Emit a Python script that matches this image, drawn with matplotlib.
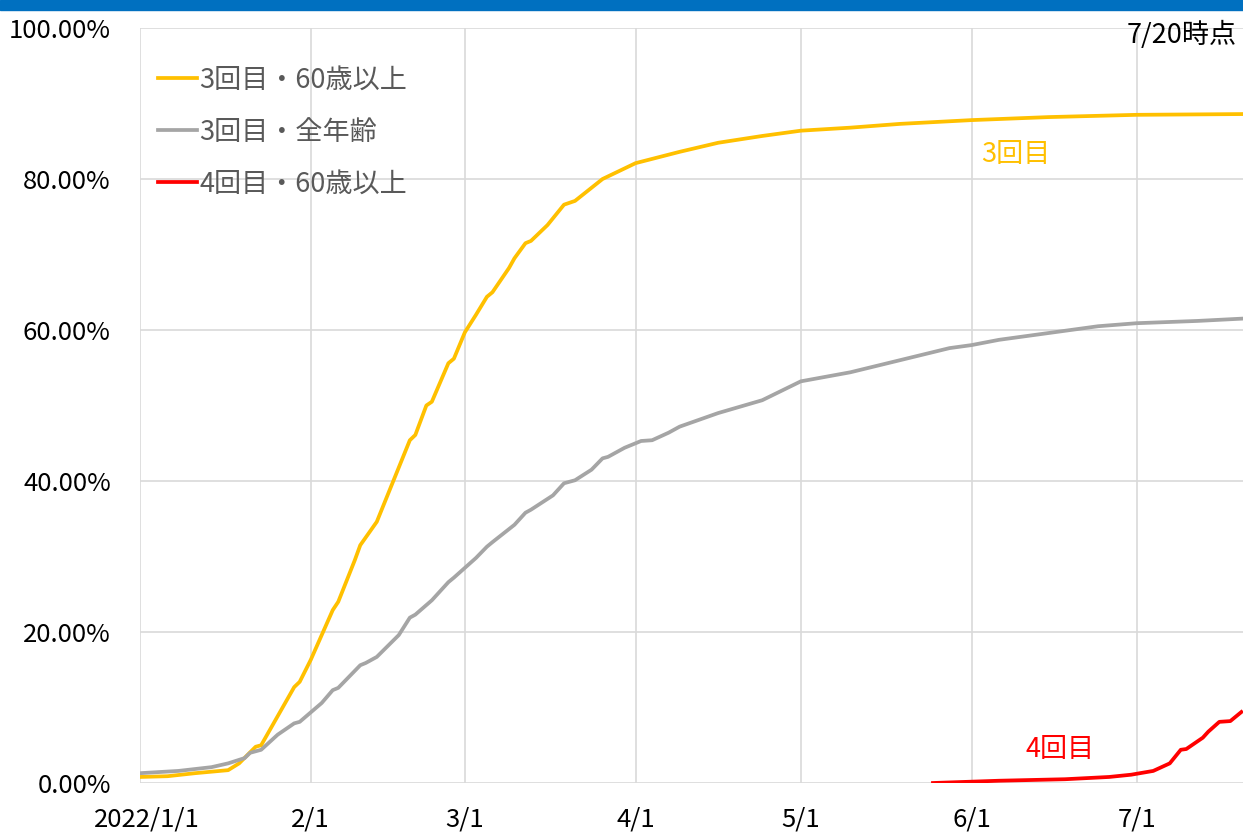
import matplotlib
matplotlib.use("Agg")
import matplotlib.pyplot as plt
from matplotlib.patches import Rectangle
from matplotlib.ticker import FuncFormatter
from matplotlib.transforms import ScaledTranslation

plt.rcParams["font.family"] = ["Noto Sans CJK JP", "DejaVu Sans"]

# days since 2022/1/1, values in %
yellow_days = [0, 5, 10, 16, 18, 21, 22, 28, 29, 31, 35, 36, 39, 40, 43, 49, 50, 52, 53, 56,
               57, 59, 61, 63, 64, 67, 68, 70, 71, 74, 75, 77, 79, 84, 90, 98, 105, 113, 120, 129,
               138, 151, 165, 181, 200]
yellow_vals = [0.8, 0.9, 1.3, 1.7, 2.6, 4.8, 5.0, 12.7, 13.4, 16.3, 22.9, 24.0, 29.5, 31.5, 34.6,
               45.4, 46.1, 50.0, 50.5, 55.6, 56.2, 59.7, 62.0, 64.4, 65.0, 68.2, 69.5, 71.5, 71.8,
               73.9, 74.8, 76.6, 77.1, 80.0, 82.1, 83.6, 84.8, 85.7, 86.4, 86.8, 87.3, 87.8, 88.2,
               88.5, 88.6]

gray_days = [0, 7, 13, 16, 19, 20, 22, 25, 28, 29, 33, 35, 36, 40, 41, 43, 47, 49, 50, 53,
             56, 57, 61, 63, 64, 68, 70, 71, 75, 77, 79, 82, 84, 85, 88, 91, 93, 96, 98, 105,
             113, 120, 129, 138, 147, 151, 156, 165, 174, 181, 192, 200]
gray_vals = [1.3, 1.6, 2.1, 2.6, 3.3, 4.0, 4.4, 6.4, 7.9, 8.1, 10.6, 12.3, 12.6, 15.6, 15.9,
             16.7, 19.6, 21.9, 22.3, 24.2, 26.6, 27.2, 29.8, 31.3, 31.9, 34.2, 35.8, 36.2, 38.1,
             39.7, 40.1, 41.5, 43.0, 43.2, 44.4, 45.3, 45.4, 46.4, 47.2, 49.0, 50.7, 53.2, 54.4,
             56.0, 57.6, 58.0, 58.7, 59.6, 60.5, 60.9, 61.2, 61.5]

red_days = [144, 156, 168, 176, 180, 184, 187, 189, 190, 193, 194, 196, 198, 200]
red_vals = [0.0, 0.3, 0.5, 0.8, 1.1, 1.6, 2.6, 4.4, 4.5, 6.0, 6.8, 8.1, 8.2, 9.4]

month_days = [0, 31, 59, 90, 120, 151, 181]
month_labels = ["2022/1/1", "2/1", "3/1", "4/1", "5/1", "6/1", "7/1"]

series_labels = ["3回目・60歳以上", "3回目・全年齢", "4回目・60歳以上"]
colors = ["#FFC000", "#A5A5A5", "#FF0000"]

fig = plt.figure(figsize=(12.43, 8.32), dpi=100)
ax = fig.add_axes([140 / 1243, 1 - 783 / 832, 1 - 140 / 1243, (783 - 28) / 832])

# blue band at top
fig.patches.append(Rectangle((0, 1 - 10 / 832), 1, 10 / 832, transform=fig.transFigure,
                             color="#0070C0", zorder=5))

lw = 2.7
ax.plot(yellow_days, yellow_vals, color=colors[0], lw=lw, label=series_labels[0],
        solid_joinstyle="round")
ax.plot(gray_days, gray_vals, color=colors[1], lw=lw, label=series_labels[1],
        solid_joinstyle="round")
ax.plot(red_days, red_vals, color=colors[2], lw=lw, label=series_labels[2],
        solid_joinstyle="round")

ax.set_xlim(0, 200.3)
ax.set_ylim(0, 100)
ax.set_xticks(month_days)
ax.set_xticklabels(month_labels)
ax.set_yticks([0, 20, 40, 60, 80, 100])
ax.yaxis.set_major_formatter(FuncFormatter(lambda v, p: f"{v:.2f}%"))
ax.tick_params(axis="both", length=0, labelsize=18.5, colors="black")
ax.tick_params(axis="x", pad=17)
ax.tick_params(axis="y", pad=21)
ax.grid(True, color="#D9D9D9", lw=1.2)
ax.set_axisbelow(True)
for s in ax.spines.values():
    s.set_visible(False)

# first date label sits a little right of the gridline
first = ax.get_xticklabels()[0]
first.set_transform(first.get_transform() + ScaledTranslation(7 / 100, 0, fig.dpi_scale_trans))

leg = ax.legend(loc="upper left", bbox_to_anchor=(0.016, 0.949), frameon=False,
                fontsize=19.5, handlelength=1.45, handletextpad=0.1, labelspacing=0.93,
                borderaxespad=0, borderpad=0)
for t in leg.get_texts():
    t.set_color("#595959")

ax.text(159, 83.2, "3回目", color=colors[0], fontsize=19.5, ha="center", va="center")
ax.text(167, 4.4, "4回目", color=colors[2], fontsize=19.5, ha="center", va="center")
fig.text(1237 / 1243, 1 - 35 / 832, "7/20時点", fontsize=19.5, ha="right", va="center",
         color="black")

fig.savefig("out.png", dpi=100)
